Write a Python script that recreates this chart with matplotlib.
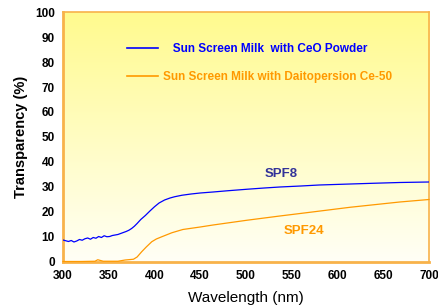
import numpy as np
import matplotlib
matplotlib.use("Agg")
import matplotlib.pyplot as plt
from matplotlib.lines import Line2D

plt.rcParams["font.family"] = ["Liberation Sans", "DejaVu Sans"]

# CeO powder sample (SPF8)
wl_ceo = [300, 303, 306, 309, 312, 315, 318, 321, 324, 327, 330, 333, 336, 339,
          342, 345, 348, 351, 354, 357, 360, 363, 366, 369, 372, 375, 378, 381,
          385, 390, 395, 400, 405, 411, 417, 422, 430, 440, 450, 464, 480, 501,
          520, 537, 560, 580, 614, 640, 668, 700]
tr_ceo = [8.8, 8.5, 8.2, 8.6, 8.0, 8.4, 9.0, 8.7, 9.3, 9.6, 9.1, 9.8, 9.5, 10.2,
          9.8, 10.5, 10.1, 10.2, 10.6, 10.8, 11.0, 11.4, 11.8, 12.2, 12.7, 13.4, 14.3, 15.4,
          17.0, 18.6, 20.4, 22.1, 23.6, 24.8, 25.6, 26.1, 26.7, 27.2, 27.6, 28.0, 28.5, 29.1,
          29.6, 30.0, 30.4, 30.8, 31.2, 31.5, 31.8, 32.0]

# Daitopersion Ce-50 sample (SPF24)
wl_dai = [300, 320, 335, 338, 341, 344, 360, 368, 377, 381, 386, 391, 397, 402,
          408, 419, 431, 450, 464, 501, 537, 568, 614, 668, 700]
tr_dai = [0.2, 0.2, 0.3, 0.9, 0.6, 0.3, 0.3, 0.8, 1.1, 2.0, 4.1, 6.0, 8.1, 9.2,
          10.1, 11.7, 13.0, 14.0, 14.8, 16.7, 18.4, 19.8, 21.9, 24.0, 25.0]

x_ticks = [300, 350, 400, 450, 500, 550, 600, 650, 700]
y_ticks = [0, 10, 20, 30, 40, 50, 60, 70, 80, 90, 100]

BLUE = "#0000FF"
ORANGE = "#FF9900"
FRAME = "#F8B24A"

fig = plt.figure(figsize=(4.38, 3.07), dpi=100)
ax = fig.add_axes([0.1438, 0.1466, 0.8357, 0.8143])

# yellow-to-white background
grad = np.linspace(1, 0, 256).reshape(-1, 1)
cmap = matplotlib.colors.LinearSegmentedColormap.from_list("bg", ["#FFFFF6", "#FFFA8E"])
ax.imshow(grad, extent=[0, 1, 0, 1], transform=ax.transAxes, aspect="auto",
          cmap=cmap, zorder=0, origin="upper")

ax.plot(wl_ceo, tr_ceo, color=BLUE, lw=0.9, zorder=3)
ax.plot(wl_dai, tr_dai, color=ORANGE, lw=0.9, zorder=3, clip_on=False)

ax.set_xlim(300, 700)
ax.set_ylim(0, 100)
ax.set_xticks(x_ticks)
ax.set_yticks(y_ticks)
ax.tick_params(length=0, pad=6)
for lab in ax.get_xticklabels() + ax.get_yticklabels():
    lab.set_fontweight("bold")
    lab.set_fontsize(8.5)

for side in ["left", "bottom"]:
    ax.spines[side].set_color(FRAME)
    ax.spines[side].set_linewidth(2.0)
for side in ["top", "right"]:
    ax.spines[side].set_color(FRAME)
    ax.spines[side].set_linewidth(1.2)

ax.set_xlabel("Wavelength (nm)", fontsize=11, labelpad=6)
ax.set_ylabel("Transparency (%)", fontsize=10.5, fontweight="bold", labelpad=5)

ax.text(538, 35.2, "SPF8", color="#333399", fontsize=9.5, fontweight="bold",
        ha="center", va="center")
ax.text(563, 12.4, "SPF24", color=ORANGE, fontsize=9.5, fontweight="bold",
        ha="center", va="center")

handles = [Line2D([], [], color=BLUE, lw=1.2), Line2D([], [], color=ORANGE, lw=1.2)]
labels = ["   Sun Screen Milk  with CeO Powder", "Sun Screen Milk with Daitopersion Ce-50"]
leg = ax.legend(handles, labels, loc="upper left", bbox_to_anchor=(0.176, 0.877),
                frameon=False, handlelength=2.6, handletextpad=0.4, labelspacing=1.35,
                borderpad=0, borderaxespad=0,
                prop={"weight": "bold", "size": 8.5})
for txt, col in zip(leg.get_texts(), [BLUE, ORANGE]):
    txt.set_color(col)

fig.savefig("out.png", dpi=100)
